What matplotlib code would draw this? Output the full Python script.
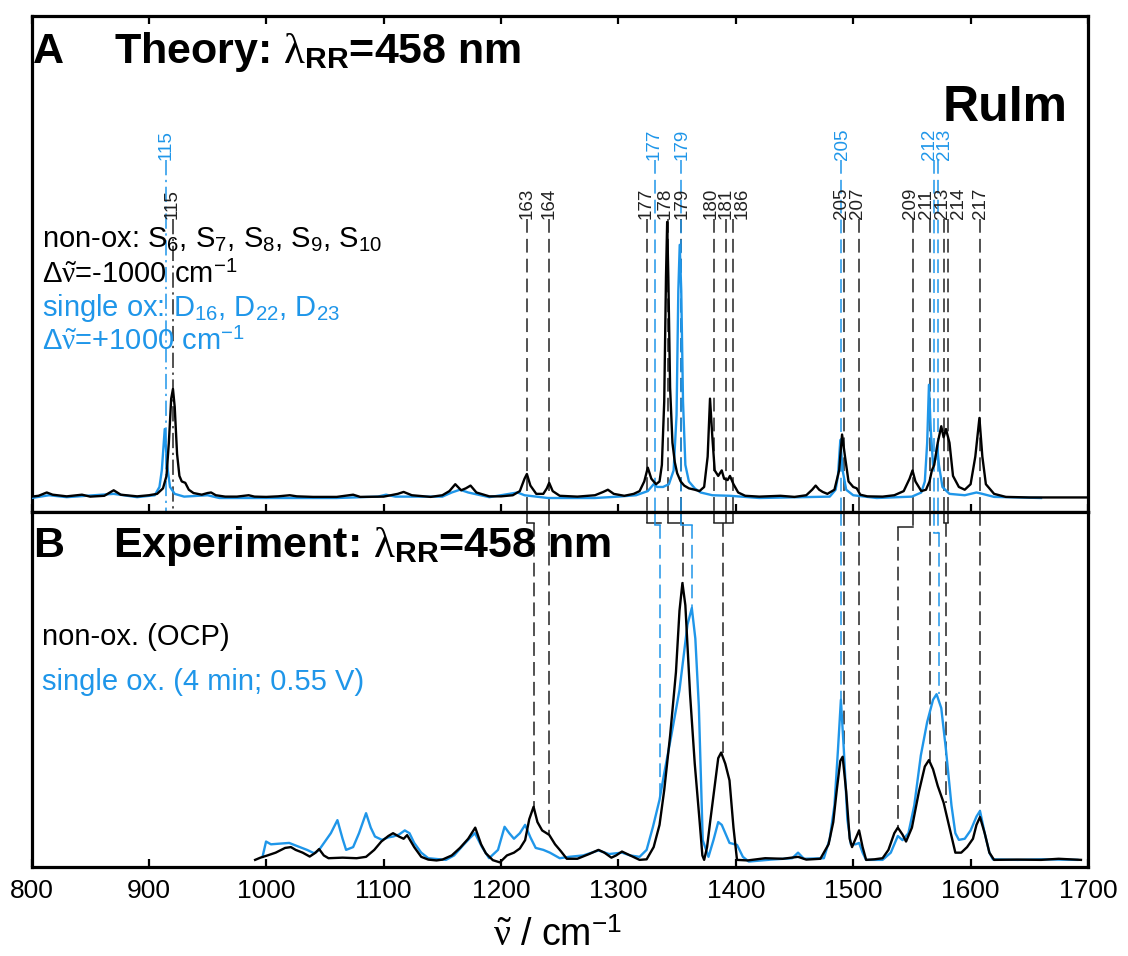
import matplotlib
matplotlib.use('Agg')
import matplotlib.pyplot as plt

plt.rcParams['font.family'] = ['Liberation Sans', 'DejaVu Sans']
plt.rcParams['mathtext.fontset'] = 'custom'
plt.rcParams['mathtext.rm'] = 'Liberation Sans'
plt.rcParams['mathtext.it'] = 'Liberation Serif'
plt.rcParams['mathtext.bf'] = 'Liberation Sans:bold'
plt.rcParams['mathtext.sf'] = 'Liberation Sans'

BLUE = '#1f96e9'

# ---------------- Panel A: theory spectra (wavenumber, normalised intensity) ----------------
theo_nonox_x = [800, 806, 813, 818, 830, 843, 850, 862, 870, 876, 890, 900, 907, 912, 915, 917, 919, 920.5,
                922, 924, 926, 928, 931, 934, 938, 945, 950, 953, 957, 965, 975, 985, 990, 1000, 1010, 1020,
                1026, 1040, 1060, 1074, 1080, 1100, 1112, 1117, 1124, 1140, 1150, 1156, 1161, 1166, 1170,
                1174, 1179, 1190, 1200, 1210, 1216, 1220, 1222, 1225, 1230, 1236, 1239, 1241, 1244, 1250,
                1265, 1280, 1287, 1291, 1296, 1305, 1313, 1318, 1322, 1325, 1328, 1332, 1335, 1337, 1339,
                1340.5, 1341.5, 1342.5, 1344, 1346, 1348, 1350, 1353, 1356, 1360, 1365, 1369, 1373, 1376,
                1378, 1380, 1382, 1385, 1388, 1390, 1393, 1395, 1398, 1402, 1408, 1420, 1438, 1450, 1460,
                1465, 1468, 1471, 1474, 1478, 1484, 1488, 1490.5, 1493, 1496, 1500, 1503, 1506, 1512, 1525,
                1535, 1543, 1548, 1550.5, 1553, 1558, 1562, 1565, 1567, 1569, 1572, 1575, 1577, 1579, 1582,
                1585, 1590, 1595, 1600, 1604, 1607.5, 1610, 1613, 1620, 1630, 1650, 1700]
theo_nonox_y = [0.005, 0.008, 0.02, 0.012, 0.006, 0.012, 0.005, 0.008, 0.028, 0.012, 0.006, 0.01, 0.015, 0.035,
                0.08, 0.2, 0.36, 0.395, 0.33, 0.16, 0.08, 0.06, 0.055, 0.03, 0.018, 0.012, 0.018, 0.02, 0.01,
                0.005, 0.005, 0.01, 0.005, 0.004, 0.006, 0.01, 0.006, 0.004, 0.004, 0.012, 0.004, 0.005,
                0.015, 0.022, 0.01, 0.004, 0.01, 0.025, 0.05, 0.028, 0.035, 0.045, 0.02, 0.006, 0.006, 0.01,
                0.025, 0.07, 0.087, 0.045, 0.015, 0.015, 0.035, 0.055, 0.025, 0.008, 0.005, 0.01, 0.022,
                0.03, 0.015, 0.008, 0.015, 0.025, 0.06, 0.11, 0.07, 0.05, 0.06, 0.12, 0.35, 0.8, 1.0, 0.8,
                0.4, 0.2, 0.13, 0.09, 0.06, 0.045, 0.035, 0.03, 0.025, 0.04, 0.15, 0.36, 0.22, 0.1, 0.08,
                0.1, 0.07, 0.065, 0.08, 0.05, 0.02, 0.008, 0.005, 0.008, 0.004, 0.01, 0.03, 0.045, 0.03,
                0.022, 0.015, 0.03, 0.1, 0.23, 0.15, 0.06, 0.04, 0.035, 0.012, 0.006, 0.005, 0.01, 0.025,
                0.07, 0.1, 0.06, 0.025, 0.03, 0.06, 0.1, 0.12, 0.2, 0.26, 0.22, 0.25, 0.2, 0.08, 0.04, 0.03,
                0.05, 0.15, 0.29, 0.15, 0.05, 0.015, 0.004, 0.002, 0.002]

theo_ox_x = [800, 815, 830, 870, 890, 905, 909, 911, 913.5, 915.5, 918, 922, 930, 950, 960, 1000, 1060, 1095,
             1102, 1110, 1150, 1158, 1165, 1172, 1190, 1214, 1220, 1240, 1280, 1300, 1315, 1325, 1330, 1333,
             1338, 1343, 1347, 1349.5, 1351, 1352.2, 1353.5, 1355, 1357, 1360, 1365, 1370, 1380, 1395, 1420,
             1480, 1485, 1487, 1489, 1491, 1494, 1500, 1520, 1550, 1558, 1561, 1563, 1564.5, 1566, 1568, 1570,
             1571.5, 1573, 1576, 1582, 1595, 1605, 1610, 1620, 1660]
theo_ox_y = [0.0, 0.01, 0.003, 0.015, 0.003, 0.01, 0.04, 0.1, 0.25, 0.12, 0.04, 0.015, 0.005, 0.01, 0.0, 0.0,
             0.0, 0.005, 0.012, 0.005, 0.005, 0.02, 0.03, 0.02, 0.003, 0.02, 0.01, 0.0, 0.0, 0.005, 0.01,
             0.025, 0.05, 0.04, 0.04, 0.05, 0.1, 0.3, 0.75, 0.917, 0.75, 0.35, 0.12, 0.06, 0.035, 0.02, 0.01,
             0.008, 0.0, 0.005, 0.03, 0.08, 0.21, 0.1, 0.03, 0.01, 0.0, 0.005, 0.02, 0.06, 0.2, 0.41, 0.25,
             0.12, 0.14, 0.19, 0.12, 0.04, 0.015, 0.01, 0.02, 0.015, 0.004, 0.0]

# ---------------- Panel B: experimental spectra ----------------
exp_nonox_x = [990.5, 995, 1001, 1008, 1016, 1021, 1025, 1031, 1037, 1042, 1045, 1049, 1053, 1065, 1077, 1085,
               1092, 1098, 1104, 1108, 1113, 1117, 1120, 1126, 1132, 1138, 1145, 1150, 1158, 1165, 1172, 1178,
               1183, 1187, 1193, 1199, 1205, 1211, 1216, 1220.5, 1224, 1227.7, 1231, 1235, 1241, 1246, 1251,
               1256, 1265, 1275, 1283, 1288, 1294, 1298, 1303, 1310, 1318, 1324, 1330, 1335, 1339, 1344, 1349,
               1352, 1354.5, 1357, 1361, 1365, 1369, 1371.5, 1373, 1375.5, 1378, 1382, 1385, 1387.5, 1391,
               1394.6, 1398, 1401, 1410, 1425, 1440, 1453, 1460, 1472, 1479, 1483, 1486, 1489, 1491, 1494,
               1497, 1499, 1502, 1505, 1508, 1511, 1518, 1525, 1530, 1535, 1538, 1542, 1545, 1550, 1556, 1561,
               1564.5, 1568, 1572, 1577, 1582, 1587, 1592, 1597, 1602, 1605, 1608, 1612, 1616, 1620, 1640,
               1660, 1675, 1694]
exp_nonox_y = [0.004, 0.012, 0.02, 0.03, 0.047, 0.05, 0.04, 0.03, 0.016, 0.03, 0.043, 0.02, 0.01, 0.012, 0.01,
               0.015, 0.04, 0.07, 0.09, 0.1, 0.088, 0.08, 0.093, 0.05, 0.015, 0.005, 0.002, 0.005, 0.02, 0.047,
               0.08, 0.12, 0.06, 0.028, 0.003, -0.005, 0.02, 0.03, 0.045, 0.075, 0.15, 0.195, 0.14, 0.11,
               0.094, 0.06, 0.035, 0.008, 0.008, 0.025, 0.04, 0.03, 0.012, 0.02, 0.034, 0.02, 0.004, 0.006,
               0.05, 0.13, 0.255, 0.45, 0.68, 0.9, 1.0, 0.92, 0.6, 0.35, 0.15, 0.02, 0.004, 0.05, 0.137, 0.27,
               0.37, 0.39, 0.35, 0.29, 0.12, 0.004, 0.002, 0.01, 0.008, 0.015, 0.005, 0.008, 0.06, 0.14, 0.256,
               0.36, 0.375, 0.25, 0.08, 0.05, 0.08, 0.11, 0.05, 0.004, 0.006, 0.01, 0.04, 0.1, 0.12, 0.095,
               0.07, 0.12, 0.25, 0.34, 0.363, 0.33, 0.27, 0.21, 0.12, 0.03, 0.03, 0.05, 0.08, 0.13, 0.158,
               0.1, 0.03, 0.004, 0.005, 0.004, 0.008, 0.004]

exp_ox_x = [996.8, 999.8, 1004, 1010, 1019.5, 1025.5, 1034.7, 1040.7, 1045, 1050, 1055, 1060.6, 1065, 1068,
            1074, 1079, 1085, 1089, 1092.6, 1098.6, 1104, 1108, 1113, 1118, 1122, 1126, 1132, 1138, 1153, 1160,
            1168, 1174, 1177.7, 1183.8, 1189.8, 1197.4, 1203, 1207, 1211, 1216, 1220.5, 1225, 1229.5, 1236,
            1241.6, 1250, 1258, 1270, 1283, 1292, 1303, 1310, 1318, 1324, 1329.4, 1335, 1339, 1345, 1352,
            1358.8, 1362.5, 1365.5, 1368.5, 1371.8, 1376.7, 1381, 1385, 1388, 1394.6, 1401, 1406, 1411, 1430,
            1448, 1453, 1458, 1475, 1480, 1484, 1487, 1489.5, 1492, 1495, 1498, 1502, 1505, 1508, 1511, 1525,
            1532, 1538, 1542, 1547, 1552, 1557.6, 1563, 1568, 1571, 1575, 1579, 1583.7, 1587, 1590, 1595,
            1600, 1605, 1608, 1612, 1616, 1619, 1640, 1660, 1691]
exp_ox_y = [0.015, 0.07, 0.06, 0.062, 0.065, 0.055, 0.04, 0.028, 0.04, 0.07, 0.1, 0.147, 0.08, 0.04, 0.05,
            0.1, 0.172, 0.12, 0.088, 0.076, 0.085, 0.088, 0.095, 0.11, 0.1, 0.065, 0.03, 0.01, 0.004, 0.02,
            0.058, 0.085, 0.1, 0.05, 0.01, 0.04, 0.123, 0.1, 0.08, 0.1, 0.13, 0.085, 0.047, 0.04, 0.03, 0.01,
            0.015, 0.02, 0.038, 0.025, 0.03, 0.02, 0.015, 0.04, 0.123, 0.22, 0.316, 0.45, 0.615, 0.85, 0.91,
            0.8, 0.555, 0.075, 0.015, 0.076, 0.14, 0.13, 0.065, 0.058, 0.015, -0.002, 0.005, 0.01, 0.03,
            0.008, 0.01, 0.08, 0.2, 0.4, 0.58, 0.4, 0.15, 0.06, 0.06, 0.065, 0.03, 0.004, 0.004, 0.03, 0.09,
            0.075, 0.1, 0.2, 0.38, 0.5, 0.58, 0.6, 0.55, 0.4, 0.2, 0.1, 0.076, 0.08, 0.11, 0.16, 0.18, 0.1,
            0.03, 0.006, 0.004, 0.006, 0.004]

# ---------------- mode labels (theory) ----------------
nonox_labels = ['115', '163', '164', '177', '178', '179', '180', '181', '186', '205', '207', '209', '211',
                '213', '214', '217']
nonox_pos = [920.2, 1222, 1240.6, 1324, 1342, 1353, 1381, 1392, 1398, 1492, 1505, 1551, 1565, 1577, 1581, 1608]
nonox_label_x = [920.2, 1222, 1240.6, 1324, 1340, 1354, 1379, 1392, 1405, 1490, 1504, 1549, 1562, 1576, 1590,
                 1608]
ox_labels = ['115', '177', '179', '205', '212', '213']
ox_pos = [915, 1331, 1353, 1490, 1569, 1572]
ox_label_x = [915, 1330, 1354, 1491, 1565, 1578]

# assignment of theory modes to experimental bands: (theory positions, experimental position, band height)
nonox_assign_theory = [[1222], [1240.6], [1324], [1342, 1353], [1381, 1392, 1398], [1492], [1505], [1551],
                       [1565], [1577, 1581], [1608]]
nonox_assign_exp = [1228, 1240.6, 1336, 1355, 1389, 1492, 1505, 1538, 1565, 1579, 1608]
nonox_assign_h = [0.195, 0.094, None, 1.0, 0.39, 0.375, 0.11, 0.12, 0.36, 0.21, 0.158]
ox_assign_theory = [[1331], [1353], [1490], [1569, 1572]]
ox_assign_exp = [1335.6, 1363, 1490, 1573]
ox_assign_h = [0.22, 0.91, 0.58, 0.6]

xticks = [800, 900, 1000, 1100, 1200, 1300, 1400, 1500, 1600, 1700]

# ---------------- figure ----------------
W, H = 1128, 956
fig = plt.figure(figsize=(W / 100, H / 100), dpi=100)


def fx(px):
    return px / W


def fy(py):
    return 1 - py / H


L, R = 31.5, 1088
yA_top, yDiv, yB_bot = 16, 512, 867
axA = fig.add_axes([fx(L), fy(yDiv), fx(R - L), (yDiv - yA_top) / H])
axB = fig.add_axes([fx(L), fy(yB_bot), fx(R - L), (yB_bot - yDiv) / H])

A_ylim = (-0.0507, 1.746)
B_ylim = (-0.0216, 1.2554)

for ax, ylim in ((axA, A_ylim), (axB, B_ylim)):
    ax.set_xlim(800, 1700)
    ax.set_ylim(*ylim)
    ax.set_yticks([])
    ax.set_xticks(xticks)
    for s in ax.spines.values():
        s.set_linewidth(2.3)

axA.tick_params(axis='x', direction='in', top=True, bottom=True, labelbottom=False, length=6, width=1.6)
axB.tick_params(axis='x', direction='in', top=False, bottom=True, length=6, width=1.6,
                labelsize=19, pad=9)

# spectra
axA.plot(theo_ox_x, theo_ox_y, color=BLUE, lw=1.7, zorder=3)
axA.plot(theo_nonox_x, theo_nonox_y, color='black', lw=1.7, zorder=4)
axB.plot(exp_ox_x, exp_ox_y, color=BLUE, lw=1.7, zorder=3)
axB.plot(exp_nonox_x, exp_nonox_y, color='black', lw=1.7, zorder=4)

dash = (0, (9, 4))
dashdot = (0, (10, 3, 1.5, 3))
LW = 1.1

# theory label lines in panel A
yA_black_top = 1.01
yA_blue_top = 1.225
for lab, x, lx in zip(nonox_labels, nonox_pos, nonox_label_x):
    ls = dashdot if lab == '115' else dash
    axA.plot([x, x], [yA_black_top, A_ylim[0]], color='#222222', lw=LW, ls=ls, zorder=2)
    axA.text(lx, yA_black_top, lab, rotation=90, ha='center', va='bottom', fontsize=13.5, color='#222222')
for lab, x, lx in zip(ox_labels, ox_pos, ox_label_x):
    ls = dashdot if lab == '115' else dash
    axA.plot([x, x], [yA_blue_top, A_ylim[0]], color=BLUE, lw=LW, ls=ls, zorder=2)
    axA.text(lx, yA_blue_top, lab, rotation=90, ha='center', va='bottom', fontsize=13.5, color=BLUE)


# connecting lines in panel B
def draw_assign(theory, exp_x, exp_h, color, jog):
    top = B_ylim[1]
    for t in theory:
        if t == exp_x:
            continue
        axB.plot([t, t], [top, jog], color=color, lw=LW, ls=dash, zorder=2)
    xs = theory + [exp_x]
    if min(xs) != max(xs):
        axB.plot([min(xs), max(xs)], [jog, jog], color=color, lw=LW, ls='-', zorder=2)
    if exp_h is not None:
        start = top if exp_x in theory else jog
        axB.plot([exp_x, exp_x], [start, exp_h], color=color, lw=LW, ls=dash, zorder=2)


for th, ex, h in zip(nonox_assign_theory, nonox_assign_exp, nonox_assign_h):
    draw_assign(th, ex, h, '#222222', 1.2 if ex == 1538 else 1.216)
for th, ex, h in zip(ox_assign_theory, ox_assign_exp, ox_assign_h):
    draw_assign(th, ex, h, BLUE, 1.18 if ex == 1573 else 1.21)

# ---------------- texts ----------------
fig.text(fx(33), fy(63), 'A', fontsize=31, fontweight='bold', va='baseline')
fig.text(fx(114), fy(63), r'Theory: $\lambda_{\mathbf{RR}}$=458 nm', fontsize=31, fontweight='bold', va='baseline')
fig.text(fx(1068), fy(121), 'RuIm', fontsize=36, fontweight='bold', ha='right', va='baseline')

fig.text(fx(42), fy(248), r'non-ox: S$_{6}$, S$_{7}$, S$_{8}$, S$_{9}$, S$_{10}$', fontsize=21, va='baseline')
fig.text(fx(42), fy(283), r'$\Delta\tilde{\nu}$=-1000 cm$^{-1}$', fontsize=21, va='baseline')
fig.text(fx(42), fy(316), r'single ox: D$_{16}$, D$_{22}$, D$_{23}$', fontsize=21, va='baseline', color=BLUE)
fig.text(fx(42), fy(350), r'$\Delta\tilde{\nu}$=+1000 cm$^{-1}$', fontsize=21, va='baseline', color=BLUE)

fig.text(fx(33), fy(557), 'B', fontsize=31, fontweight='bold', va='baseline')
fig.text(fx(113), fy(557), r'Experiment: $\lambda_{\mathbf{RR}}$=458 nm', fontsize=31, fontweight='bold',
         va='baseline')
fig.text(fx(42), fy(645), 'non-ox. (OCP)', fontsize=21, va='baseline')
fig.text(fx(42), fy(690), 'single ox. (4 min; 0.55 V)', fontsize=21, va='baseline', color=BLUE)

fig.text(fx(558), fy(946), r'$\tilde{\nu}$ / cm$^{-1}$', fontsize=27, ha='center', va='baseline')

fig.savefig('out.png', dpi=100)
